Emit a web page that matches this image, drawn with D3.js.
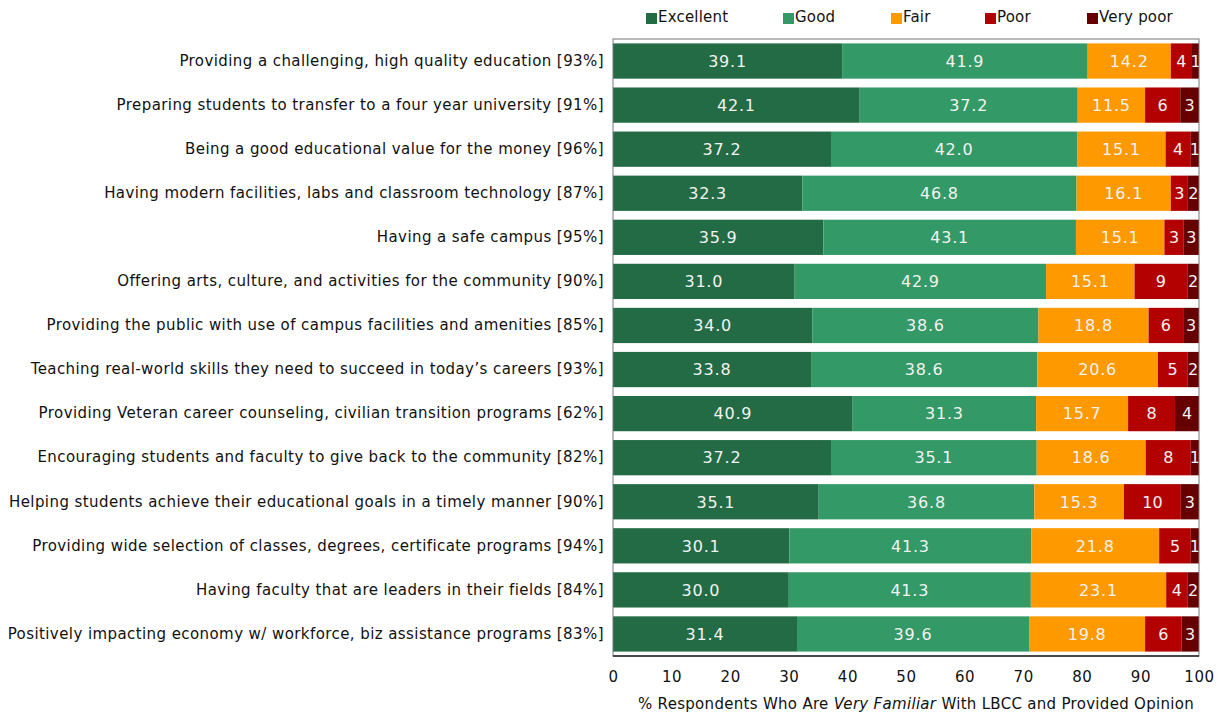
<!DOCTYPE html>
<html>
<head>
<meta charset="utf-8">
<script src="https://cdn.jsdelivr.net/npm/d3@7"></script>
<style>
  body { margin: 0; background: #fff; }
  text { font-family: "DejaVu Sans", sans-serif; }
</style>
</head>
<body>
<svg></svg>
<script>
const width = 1224;
const height = 717;

const categories = [
  "Providing a challenging, high quality education [93%]",
  "Preparing students to transfer to a four year university [91%]",
  "Being a good educational value for the money [96%]",
  "Having modern facilities, labs and classroom technology [87%]",
  "Having a safe campus [95%]",
  "Offering arts, culture, and activities for the community [90%]",
  "Providing the public with use of campus facilities and amenities [85%]",
  "Teaching real-world skills they need to succeed in today\u2019s careers [93%]",
  "Providing Veteran career counseling, civilian transition programs [62%]",
  "Encouraging students and faculty to give back to the community [82%]",
  "Helping students achieve their educational goals in a timely manner [90%]",
  "Providing wide selection of classes, degrees, certificate programs [94%]",
  "Having faculty that are leaders in their fields [84%]",
  "Positively impacting economy w/ workforce, biz assistance programs [83%]"
];

const seriesNames = ["Excellent", "Good", "Fair", "Poor", "Very poor"];
const seriesColors = ["#236b45", "#339966", "#ff9900", "#b30000", "#660000"];

const excellent = [39.1, 42.1, 37.2, 32.3, 35.9, 31.0, 34.0, 33.8, 40.9, 37.2, 35.1, 30.1, 30.0, 31.4];
const good      = [41.9, 37.2, 42.0, 46.8, 43.1, 42.9, 38.6, 38.6, 31.3, 35.1, 36.8, 41.3, 41.3, 39.6];
const fair      = [14.2, 11.5, 15.1, 16.1, 15.1, 15.1, 18.8, 20.6, 15.7, 18.6, 15.3, 21.8, 23.1, 19.8];
const poor      = [3.6, 6.0, 4.3, 2.9, 3.3, 9.0, 5.9, 5.0, 8.0, 7.7, 9.7, 5.4, 3.6, 6.2];
const veryPoor  = [1.2, 3.2, 1.4, 1.9, 2.6, 2.0, 2.7, 2.0, 4.1, 1.4, 3.1, 1.4, 2.0, 3.0];

const xTicks = [0, 10, 20, 30, 40, 50, 60, 70, 80, 90, 100];

const seriesValues = [excellent, good, fair, poor, veryPoor];
const rows = categories.map((c, i) => {
  const r = { cat: c };
  seriesNames.forEach((s, j) => { r[s] = seriesValues[j][i]; });
  return r;
});

const margin = { top: 39, right: 25, bottom: 61, left: 613 };

const svg = d3.select("svg")
    .attr("width", width)
    .attr("height", height);

const x = d3.scaleLinear()
    .domain([0, 100])
    .range([margin.left, width - margin.right]);

const y = d3.scaleBand()
    .domain(categories)
    .range([margin.top, height - margin.bottom])
    .paddingInner(0.2)
    .paddingOuter(0.1);

const color = d3.scaleOrdinal().domain(seriesNames).range(seriesColors);

const stack = d3.stack().keys(seriesNames);
const layers = stack(rows);

const fmt1 = d3.format(".1f");
const fmt0 = d3.format(".0f");

const g = svg.append("g");

layers.forEach((layer, j) => {
  const lg = g.append("g").attr("fill", color(layer.key));
  lg.selectAll("rect")
    .data(layer)
    .enter().append("rect")
    .attr("x", d => x(d[0]))
    .attr("y", d => y(d.data.cat))
    .attr("width", d => x(Math.min(d[1], 100)) - x(d[0]))
    .attr("height", y.bandwidth());

  g.append("g").selectAll("text")
    .data(layer)
    .enter().append("text")
    .attr("x", d => (x(d[0]) + x(Math.min(d[1], 100))) / 2)
    .attr("y", d => y(d.data.cat) + y.bandwidth() / 2)
    .attr("dy", "0.36em")
    .attr("text-anchor", "middle")
    .attr("fill", "#f2f2f2")
    .attr("font-size", 16)
    .attr("letter-spacing", j < 3 ? 0.8 : 0)
    .text(d => (j < 3 ? fmt1 : fmt0)(d[1] - d[0]));
});

// frame
svg.append("rect")
    .attr("x", margin.left)
    .attr("y", margin.top)
    .attr("width", x(100) - x(0))
    .attr("height", height - margin.bottom - margin.top)
    .attr("fill", "none")
    .attr("stroke", "#777")
    .attr("stroke-width", 1);
svg.append("line")
    .attr("x1", margin.left).attr("x2", x(100))
    .attr("y1", height - margin.bottom).attr("y2", height - margin.bottom)
    .attr("stroke", "#222").attr("stroke-width", 1.5);

// category labels
const yAxis = svg.append("g")
    .attr("transform", `translate(${margin.left - 9},0)`)
    .call(d3.axisLeft(y).tickSize(0).tickPadding(0));
yAxis.select(".domain").remove();
yAxis.selectAll("text")
    .attr("font-size", 15)
    .attr("font-family", "DejaVu Sans")
    .attr("letter-spacing", 0.42)
    .attr("fill", "#111");

// x axis
const xAxis = svg.append("g")
    .attr("transform", `translate(0,${height - margin.bottom})`)
    .call(d3.axisBottom(x).tickValues(xTicks).tickSize(0).tickPadding(15));
xAxis.select(".domain").remove();
xAxis.selectAll("text")
    .attr("font-size", 15)
    .attr("font-family", "DejaVu Sans")
    .attr("letter-spacing", 0.6)
    .attr("fill", "#111");

// axis title
const title = svg.append("text")
    .attr("x", (x(0) + x(100)) / 2 + 10)
    .attr("y", 709)
    .attr("text-anchor", "middle")
    .attr("font-size", 15)
    .attr("letter-spacing", 0.3)
    .attr("fill", "#111");
title.append("tspan").text("% Respondents Who Are ");
title.append("tspan").attr("font-style", "italic").text("Very Familiar");
title.append("tspan").text(" With LBCC and Provided Opinion");

// legend
const legendX = [646, 783, 891, 985, 1087];
const legend = svg.append("g").selectAll("g")
    .data(seriesNames)
    .enter().append("g")
    .attr("transform", (d, i) => `translate(${legendX[i]},13)`);
legend.append("rect")
    .attr("width", 11).attr("height", 11)
    .attr("fill", d => color(d));
legend.append("text")
    .attr("x", 12).attr("y", 9)
    .attr("font-size", 15)
    .attr("letter-spacing", 0.2)
    .attr("fill", "#111")
    .text(d => d);
</script>
</body>
</html>
